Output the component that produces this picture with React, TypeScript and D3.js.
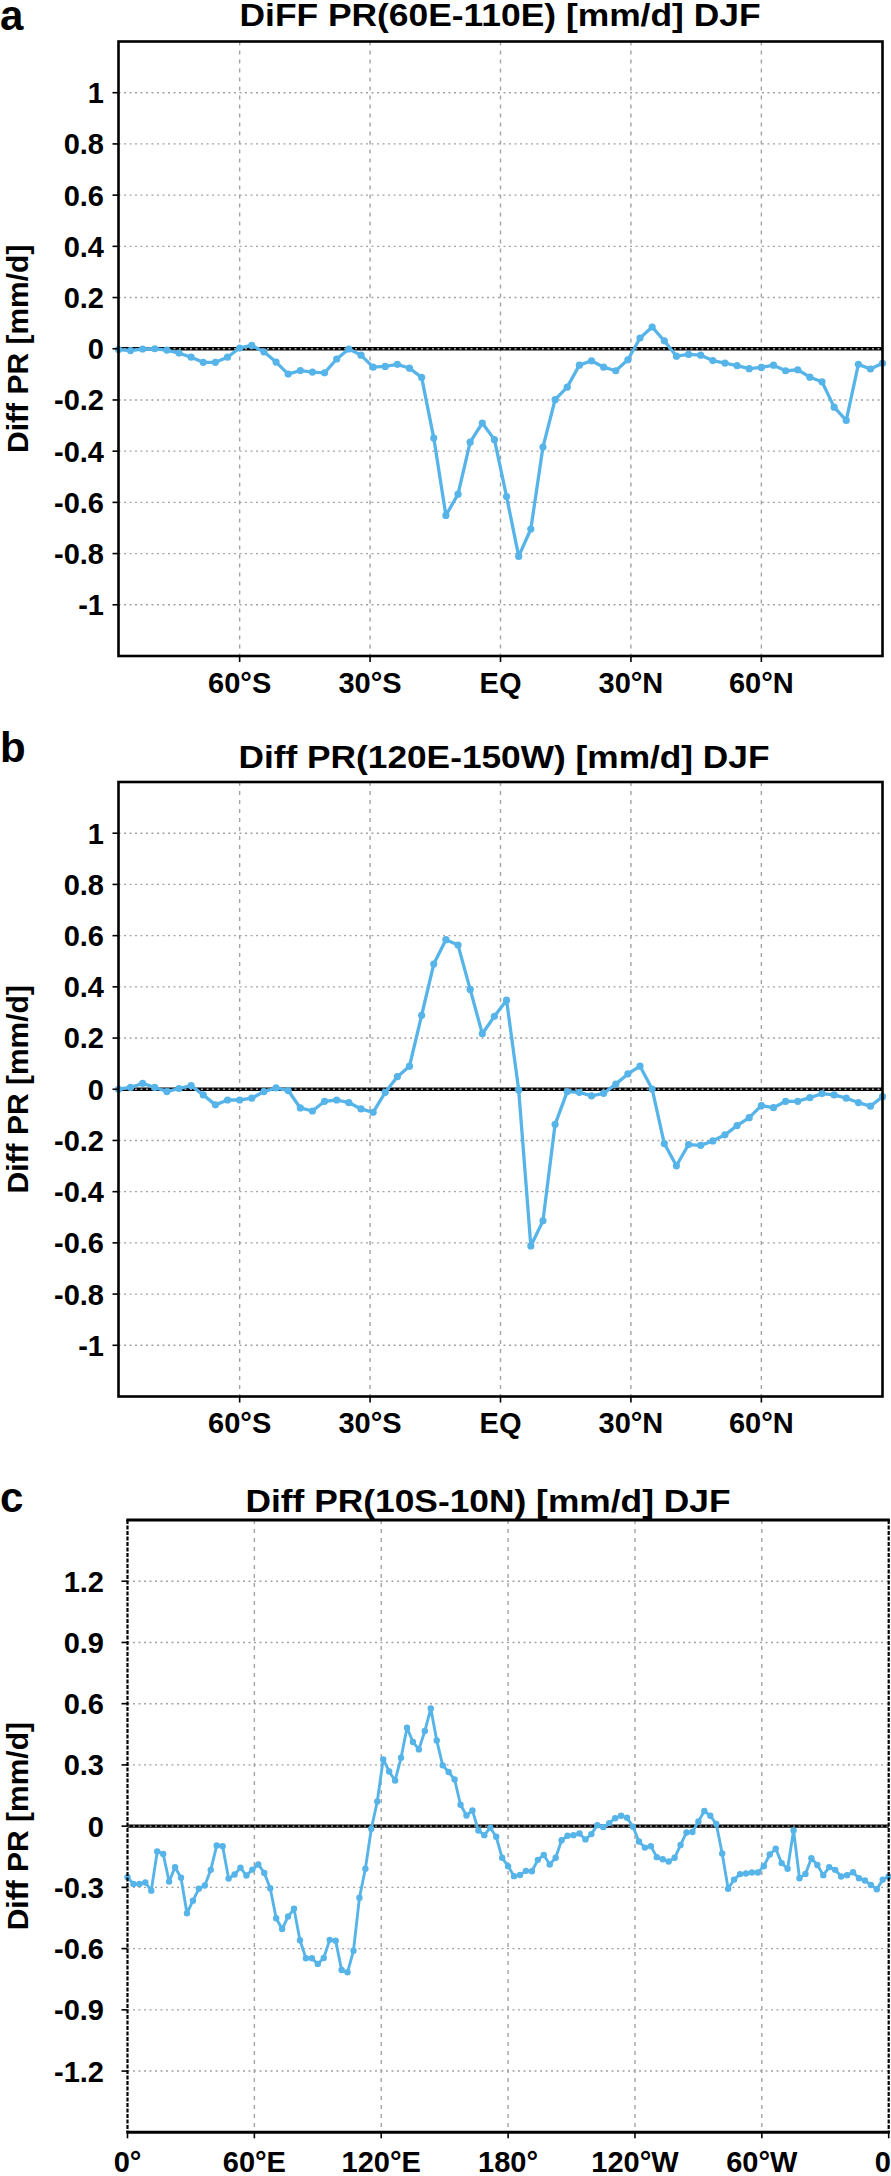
import React from "react";
import * as d3 from "d3";

// T42 gaussian latitudes (northern half), mirrored for the south
const gaussLatN = [
  1.3954, 4.186, 6.9766, 9.7672, 12.5578, 15.3484, 18.139, 20.9296, 23.7202,
  26.5108, 29.3014, 32.0919, 34.8825, 37.6731, 40.4636, 43.2542, 46.0447,
  48.8352, 51.6257, 54.4162, 57.2066, 59.997, 62.7874, 65.5776, 68.3678,
  71.1578, 73.9475, 76.7369, 79.5256, 82.3129, 85.0965, 87.8638,
];
const lats = [...gaussLatN.map((d) => -d).reverse(), ...gaussLatN];
const lons = d3.range(129).map((i) => i * 2.8125);

const diffA = [
  -0.003, -0.007, -0.001, 0.0, -0.005, -0.017, -0.033, -0.053, -0.053, -0.033,
  0.003, 0.013, -0.012, -0.052, -0.099, -0.085, -0.091, -0.094, -0.04, -0.001,
  -0.025, -0.072, -0.069, -0.061, -0.076, -0.112, -0.349, -0.651, -0.568, -0.365,
  -0.29, -0.355, -0.577, -0.811, -0.704, -0.384, -0.199, -0.15, -0.064, -0.047,
  -0.072, -0.086, -0.043, 0.042, 0.085, 0.031, -0.029, -0.022, -0.025, -0.046,
  -0.056, -0.066, -0.078, -0.073, -0.064, -0.086, -0.082, -0.111, -0.129, -0.228,
  -0.28, -0.061, -0.079, -0.057,
];

const diffB = [
  0.0, 0.007, 0.023, 0.007, -0.009, 0.003, 0.014, -0.022, -0.061, -0.042,
  -0.042, -0.035, -0.009, 0.005, -0.005, -0.073, -0.085, -0.047, -0.042, -0.052,
  -0.077, -0.09, -0.012, 0.049, 0.09, 0.289, 0.489, 0.584, 0.563, 0.39,
  0.217, 0.285, 0.348, -0.003, -0.612, -0.514, -0.137, -0.009, -0.012, -0.026,
  -0.016, 0.02, 0.06, 0.09, 0.001, -0.212, -0.299, -0.216, -0.219, -0.202,
  -0.178, -0.142, -0.111, -0.064, -0.072, -0.047, -0.047, -0.033, -0.017, -0.022,
  -0.035, -0.052, -0.066, -0.029,
];

const diffC = [
  -0.25, -0.283, -0.283, -0.276, -0.316, -0.124, -0.136, -0.271, -0.201, -0.253,
  -0.427, -0.365, -0.307, -0.291, -0.214, -0.095, -0.098, -0.257, -0.237, -0.204,
  -0.242, -0.213, -0.188, -0.229, -0.304, -0.451, -0.504, -0.443, -0.405, -0.559,
  -0.647, -0.647, -0.675, -0.646, -0.557, -0.561, -0.705, -0.716, -0.61, -0.351,
  -0.209, -0.013, 0.121, 0.327, 0.268, 0.224, 0.335, 0.482, 0.412, 0.376,
  0.466, 0.577, 0.42, 0.298, 0.265, 0.229, 0.105, 0.052, 0.077, -0.021,
  -0.044, -0.008, -0.052, -0.155, -0.196, -0.245, -0.239, -0.219, -0.221, -0.165,
  -0.141, -0.188, -0.155, -0.069, -0.047, -0.044, -0.036, -0.065, -0.039, 0.005,
  -0.005, 0.015, 0.039, 0.051, 0.041, -0.003, -0.075, -0.105, -0.098, -0.152,
  -0.162, -0.173, -0.155, -0.092, -0.031, -0.029, 0.023, 0.074, 0.051, 0.011,
  -0.134, -0.307, -0.262, -0.235, -0.232, -0.227, -0.227, -0.196, -0.139, -0.111,
  -0.181, -0.209, -0.021, -0.255, -0.234, -0.157, -0.19, -0.24, -0.201, -0.214,
  -0.247, -0.24, -0.226, -0.255, -0.266, -0.288, -0.309, -0.262, -0.247,
];

const latTicks = [-60, -30, 0, 30, 60];
const latLabels = ["60°S", "30°S", "EQ", "30°N", "60°N"];
const lonTicks = [0, 60, 120, 180, 240, 300, 360];
const lonLabels = ["0°", "60°E", "120°E", "180°", "120°W", "60°W", "0°"];
const yTicksAB = [1, 0.8, 0.6, 0.4, 0.2, 0, -0.2, -0.4, -0.6, -0.8, -1];
const yTicksC = [1.2, 0.9, 0.6, 0.3, 0, -0.3, -0.6, -0.9, -1.2];

const BLUE = "#56B4E9";
const GRID = "#a3a3a3";
const FONT = "'Liberation Sans', Arial, Helvetica, sans-serif";

interface PanelProps {
  letter: string;
  letterY: number;
  title: string;
  titleX: number;
  titleY: number;
  titleW: number;
  left: number;
  right: number;
  top: number;
  bottom: number;
  xDomain: [number, number];
  yDomain: [number, number];
  xs: number[];
  ys: number[];
  xTicks: number[];
  xLabels: string[];
  yTicks: number[];
  xLabelY: number;
  dashedSides?: boolean;
  r: number;
  lw: number;
}

const Panel: React.FC<PanelProps> = (p) => {
  const x = d3.scaleLinear().domain(p.xDomain).range([p.left, p.right]);
  const y = d3.scaleLinear().domain(p.yDomain).range([p.bottom, p.top]);
  const pts = p.xs.map((v, i) => [v, p.ys[i]] as [number, number]);
  const line = d3
    .line<[number, number]>()
    .x((d) => x(d[0]))
    .y((d) => y(d[1]));
  const midY = (p.top + p.bottom) / 2;

  return (
    <g>
      <text x={0} y={p.letterY} fontSize={42} fontWeight="bold" fontFamily={FONT}>
        {p.letter}
      </text>
      <text
        x={p.titleX}
        y={p.titleY}
        fontSize={31}
        fontWeight="bold"
        fontFamily={FONT}
        textAnchor="middle"
        textLength={p.titleW}
        lengthAdjust="spacingAndGlyphs"
      >
        {p.title}
      </text>

      {/* vertical dashed grid */}
      {p.xTicks
        .filter((t) => t > p.xDomain[0] + 1e-6 && t < p.xDomain[1] - 1e-6)
        .map((t) => (
          <line
            key={"gx" + t}
            x1={x(t)}
            x2={x(t)}
            y1={p.top}
            y2={p.bottom}
            stroke={GRID}
            strokeWidth={1.4}
            strokeDasharray="4,5"
          />
        ))}

      {/* zero line */}
      <line x1={p.left} x2={p.right} y1={y(0)} y2={y(0)} stroke="#000" strokeWidth={3.4} />

      {/* horizontal dotted grid */}
      {p.yTicks.map((t) => (
        <line
          key={"gy" + t}
          x1={p.left}
          x2={p.right}
          y1={y(t)}
          y2={y(t)}
          stroke={GRID}
          strokeWidth={1.4}
          strokeDasharray="2,3.5"
        />
      ))}

      {/* data */}
      <path
        d={line(pts) ?? ""}
        fill="none"
        stroke={BLUE}
        strokeWidth={p.lw}
        strokeLinejoin="round"
        strokeLinecap="round"
      />
      {pts.map((d, i) => (
        <circle key={i} cx={x(d[0])} cy={y(d[1])} r={p.r} fill={BLUE} />
      ))}

      {/* frame */}
      {p.dashedSides ? (
        <g>
          <line x1={p.left - 1.2} x2={p.right + 1.2} y1={p.top} y2={p.top} stroke="#000" strokeWidth={3} />
          <line x1={p.left - 1.2} x2={p.right + 1.2} y1={p.bottom} y2={p.bottom} stroke="#000" strokeWidth={3} />
          <line x1={p.left} x2={p.left} y1={p.top} y2={p.bottom} stroke="#000" strokeWidth={2.2} strokeDasharray="4,1.5" />
          <line x1={p.right} x2={p.right} y1={p.top} y2={p.bottom} stroke="#000" strokeWidth={2.2} strokeDasharray="4,1.5" />
        </g>
      ) : (
        <rect
          x={p.left}
          y={p.top}
          width={p.right - p.left}
          height={p.bottom - p.top}
          fill="none"
          stroke="#000"
          strokeWidth={2.6}
        />
      )}

      {/* y ticks */}
      {p.yTicks.map((t) => (
        <g key={"ty" + t}>
          <line x1={p.left - 6} x2={p.left} y1={y(t)} y2={y(t)} stroke="#000" strokeWidth={1.6} />
          <text
            x={104}
            y={y(t)}
            dy="0.36em"
            textAnchor="end"
            fontSize={29}
            fontWeight="bold"
            fontFamily={FONT}
          >
            {String(+t.toFixed(1))}
          </text>
        </g>
      ))}

      {/* x ticks */}
      {p.xTicks.map((t, i) => (
        <g key={"tx" + i}>
          <line x1={x(t)} x2={x(t)} y1={p.bottom} y2={p.bottom + 6} stroke="#000" strokeWidth={1.6} />
          <text
            x={x(t)}
            y={p.xLabelY}
            textAnchor="middle"
            fontSize={29}
            fontWeight="bold"
            fontFamily={FONT}
          >
            {p.xLabels[i]}
          </text>
        </g>
      ))}

      {/* y axis title */}
      <text
        transform={`translate(28,${midY}) rotate(-90)`}
        textAnchor="middle"
        fontSize={30}
        fontWeight="bold"
        fontFamily={FONT}
      >
        Diff PR [mm/d]
      </text>
    </g>
  );
};

const App: React.FC = () => {
  const latDomain: [number, number] = [lats[0], lats[lats.length - 1]];
  return (
    <svg
      width={891}
      height={2176}
      viewBox="0 0 891 2176"
      style={{ position: "absolute", left: 0, top: 0, display: "block", background: "#fff" }}
    >
      <rect width={891} height={2176} fill="#fff" />
      <Panel
        letter="a"
        letterY={30}
        title="DiFF PR(60E-110E) [mm/d] DJF"
        titleX={500}
        titleY={26}
        titleW={521}
        left={118.5}
        right={882.5}
        top={41.5}
        bottom={656}
        xDomain={latDomain}
        yDomain={[-1.2, 1.2]}
        xs={lats}
        ys={diffA}
        xTicks={latTicks}
        xLabels={latLabels}
        yTicks={yTicksAB}
        xLabelY={693}
        r={3.6}
        lw={3.3}
      />
      <Panel
        letter="b"
        letterY={762}
        title="Diff PR(120E-150W) [mm/d] DJF"
        titleX={504}
        titleY={768}
        titleW={531}
        left={118.5}
        right={882.5}
        top={782}
        bottom={1396.5}
        xDomain={latDomain}
        yDomain={[-1.2, 1.2]}
        xs={lats}
        ys={diffB}
        xTicks={latTicks}
        xLabels={latLabels}
        yTicks={yTicksAB}
        xLabelY={1433}
        r={3.6}
        lw={3.3}
      />
      <Panel
        letter="c"
        letterY={1512}
        title="Diff PR(10S-10N) [mm/d] DJF"
        titleX={488}
        titleY={1512}
        titleW={485}
        left={127.5}
        right={888.7}
        top={1520}
        bottom={2132.3}
        xDomain={[0, 360]}
        yDomain={[-1.5, 1.5]}
        xs={lons}
        ys={diffC}
        xTicks={lonTicks}
        xLabels={lonLabels}
        yTicks={yTicksC}
        xLabelY={2172}
        dashedSides
        r={3.2}
        lw={2.9}
      />
    </svg>
  );
};

export default App;
